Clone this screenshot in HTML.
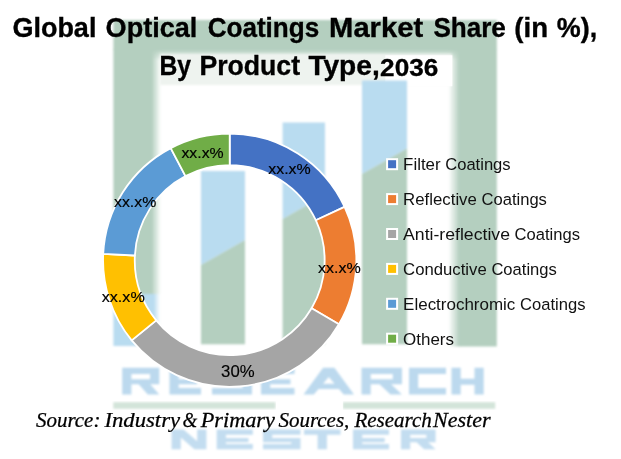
<!DOCTYPE html>
<html><head><meta charset="utf-8"><title>Global Optical Coatings Market Share</title>
<style>html,body{margin:0;padding:0;background:#fff;}body{width:621px;height:459px;overflow:hidden;font-family:"Liberation Sans",sans-serif;}svg{display:block;will-change:transform;opacity:0.999;}</style>
</head><body>
<svg width="621" height="459" viewBox="0 0 621 459">
<defs>
<filter id="b1" x="-10%" y="-10%" width="120%" height="120%"><feGaussianBlur stdDeviation="1.2"/></filter>
<filter id="b2" x="-10%" y="-30%" width="120%" height="160%"><feGaussianBlur stdDeviation="1.3"/></filter>
<linearGradient id="fade" x1="0" y1="0" x2="0" y2="1"><stop offset="0" stop-color="#b4cfbf"/><stop offset="1" stop-color="#b4cfbf" stop-opacity="0"/></linearGradient>
<linearGradient id="fadeR" x1="0" y1="0" x2="1" y2="0"><stop offset="0" stop-color="#b4cfbf"/><stop offset="1" stop-color="#b4cfbf" stop-opacity="0"/></linearGradient>
<linearGradient id="fadeB" x1="0" y1="0" x2="1" y2="0"><stop offset="0" stop-color="#b9dcf0"/><stop offset="1" stop-color="#b9dcf0" stop-opacity="0"/></linearGradient>
<linearGradient id="fadeL" x1="0" y1="0" x2="1" y2="0"><stop offset="0" stop-color="#b4cfbf" stop-opacity="0"/><stop offset="1" stop-color="#b4cfbf"/></linearGradient>
</defs>
<rect width="621" height="459" fill="#fff"/>

<g filter="url(#b1)">
<rect x="113.4" y="20" width="383.4" height="30" fill="#b4cfbf"/>
<rect x="113.4" y="49" width="38.6" height="245" fill="#b4cfbf"/>
<rect x="459" y="49" width="37.8" height="297.5" fill="#b4cfbf"/>
<rect x="150" y="49.5" width="309" height="11" fill="url(#fade)"/>
<rect x="151.5" y="50" width="9.5" height="244" fill="url(#fadeR)"/>
<rect x="448.5" y="50" width="11" height="296.5" fill="url(#fadeL)"/>
<rect x="113.4" y="294" width="40.6" height="52" fill="#b9dcf0"/>
<rect x="153.5" y="294" width="6.5" height="52" fill="url(#fadeB)"/>
</g>
<rect x="160" y="54" width="292" height="31" fill="#eef3ef" filter="url(#b1)"/><rect x="385.3" y="55.3" width="67" height="31" fill="#fff"/>
<g filter="url(#b1)">
<path d="M201,171 H245 V240.1 L201,265.0 Z" fill="#b9dcf0"/>
<path d="M201,265.0 L245,240.1 V344.3 H201 Z" fill="#b4cfbf"/>
<path d="M282.6,122.5 H325 V194.9 L282.6,218.9 Z" fill="#b9dcf0"/>
<path d="M282.6,218.9 L325,194.9 V344.3 H282.6 Z" fill="#b4cfbf"/>
<path d="M362,80.5 H407 V148.6 L362,174.0 Z" fill="#b9dcf0"/>
<path d="M362,174.0 L407,148.6 V344.3 H362 Z" fill="#b4cfbf"/>
</g>
<g filter="url(#b1)"><rect x="113.3" y="402.2" width="162.2" height="6.6" fill="#d3e4d9"/><rect x="342.8" y="402.2" width="152.4" height="6.6" fill="#d3e4d9"/></g>
<path d="M122.2,367.7 H131.4 V394.4 H122.2 Z M122.2,367.7 H159.3 V374.0 H122.2 Z M150.1,367.7 H159.3 V384.2 H150.1 Z M122.2,379.2 H159.3 V384.2 H122.2 Z M137.8,383.2 L149.3,383.2 L159.3,394.4 L147.8,394.4 Z M169.5,367.7 H178.7 V394.4 H169.5 Z M169.5,367.7 H201.0 V374.0 H169.5 Z M169.5,388.1 H201.0 V394.4 H169.5 Z M169.5,379.2 H197.2 V384.2 H169.5 Z M212.0,367.7 H252.0 V374.0 H212.0 Z M212.0,367.7 H221.2 V384.2 H212.0 Z M212.0,379.2 H252.0 V384.2 H212.0 Z M242.8,379.2 H252.0 V394.4 H242.8 Z M212.0,388.1 H252.0 V394.4 H212.0 Z M261.0,367.7 H270.2 V394.4 H261.0 Z M261.0,367.7 H294.5 V374.0 H261.0 Z M261.0,388.1 H294.5 V394.4 H261.0 Z M261.0,379.2 H290.5 V384.2 H261.0 Z M303.5,394.4 L323.1,367.7 L334.4,367.7 L354.0,394.4 L343.7,394.4 L328.8,377.1 L313.8,394.4 Z M314.6,383.7 H342.9 V389.1 H314.6 Z M361.5,367.7 H370.7 V394.4 H361.5 Z M361.5,367.7 H402.0 V374.0 H361.5 Z M392.8,367.7 H402.0 V384.2 H392.8 Z M361.5,379.2 H402.0 V384.2 H361.5 Z M378.5,383.2 L390.0,383.2 L402.0,394.4 L390.5,394.4 Z M409.0,367.7 H418.2 V394.4 H409.0 Z M409.0,367.7 H446.0 V374.0 H409.0 Z M409.0,388.1 H446.0 V394.4 H409.0 Z M451.5,367.7 H460.7 V394.4 H451.5 Z M474.5,367.7 H483.7 V394.4 H474.5 Z M451.5,378.7 H483.7 V384.7 H451.5 Z" fill="#bcd9ee" filter="url(#b2)"/>
<path d="M171.6,429.5 H180.8 V449.3 H171.6 Z M197.2,429.5 H206.4 V449.3 H197.2 Z M171.6,429.5 L183.6,429.5 L206.4,449.3 L194.4,449.3 Z M216.7,429.5 H225.9 V449.3 H216.7 Z M216.7,429.5 H252.8 V434.7 H216.7 Z M216.7,444.1 H252.8 V449.3 H216.7 Z M216.7,438.0 H248.5 V442.2 H216.7 Z M263.0,429.5 H300.5 V434.7 H263.0 Z M263.0,429.5 H272.2 V442.2 H263.0 Z M263.0,438.0 H300.5 V442.2 H263.0 Z M291.3,438.0 H300.5 V449.3 H291.3 Z M263.0,444.1 H300.5 V449.3 H263.0 Z M304.0,429.5 H340.5 V434.7 H304.0 Z M317.6,429.5 H326.9 V449.3 H317.6 Z M353.0,429.5 H362.2 V449.3 H353.0 Z M353.0,429.5 H389.0 V434.7 H353.0 Z M353.0,444.1 H389.0 V449.3 H353.0 Z M353.0,438.0 H384.7 V442.2 H353.0 Z M401.0,429.5 H410.2 V449.3 H401.0 Z M401.0,429.5 H435.6 V434.7 H401.0 Z M426.4,429.5 H435.6 V442.2 H426.4 Z M401.0,438.0 H435.6 V442.2 H401.0 Z M415.5,441.2 L427.0,441.2 L435.6,449.3 L424.1,449.3 Z" fill="#c3ddf0" filter="url(#b2)"/>
<rect x="276" y="399" width="66.8" height="11" fill="#fff"/>
<path d="M229.70,133.55 A126.65,126.65 0 0 1 344.58,206.88 L315.82,220.22 A94.95,94.95 0 0 0 229.70,165.25 Z" fill="#4472C4" stroke="#fff" stroke-width="1.8" stroke-linejoin="round"/>
<path d="M344.58,206.88 A126.65,126.65 0 0 1 338.94,324.29 L311.60,308.25 A94.95,94.95 0 0 0 315.82,220.22 Z" fill="#ED7D31" stroke="#fff" stroke-width="1.8" stroke-linejoin="round"/>
<path d="M338.94,324.29 A126.65,126.65 0 0 1 131.69,340.42 L156.22,320.34 A94.95,94.95 0 0 0 311.60,308.25 Z" fill="#A5A5A5" stroke="#fff" stroke-width="1.8" stroke-linejoin="round"/>
<path d="M131.69,340.42 A126.65,126.65 0 0 1 103.21,253.90 L134.87,255.48 A94.95,94.95 0 0 0 156.22,320.34 Z" fill="#FFC000" stroke="#fff" stroke-width="1.8" stroke-linejoin="round"/>
<path d="M103.21,253.90 A126.65,126.65 0 0 1 170.73,148.12 L185.49,176.17 A94.95,94.95 0 0 0 134.87,255.48 Z" fill="#5B9BD5" stroke="#fff" stroke-width="1.8" stroke-linejoin="round"/>
<path d="M170.73,148.12 A126.65,126.65 0 0 1 229.70,133.55 L229.70,165.25 A94.95,94.95 0 0 0 185.49,176.17 Z" fill="#70AD47" stroke="#fff" stroke-width="1.8" stroke-linejoin="round"/>
<text transform="translate(268.20,173.90) scale(1.0423,1)" font-family='"Liberation Sans", sans-serif' font-weight="normal" font-style="normal" font-size="15.3" fill="#000" stroke="#000" stroke-width="0.15">xx.x%</text>
<text transform="translate(318.00,272.80) scale(1.0497,1)" font-family='"Liberation Sans", sans-serif' font-weight="normal" font-style="normal" font-size="15.3" fill="#000" stroke="#000" stroke-width="0.15">xx.x%</text>
<text transform="translate(221.10,376.70) scale(1.0469,1)" font-family='"Liberation Sans", sans-serif' font-weight="normal" font-style="normal" font-size="16" fill="#000" stroke="#000" stroke-width="0.15">30%</text>
<text transform="translate(101.70,301.60) scale(1.0546,1)" font-family='"Liberation Sans", sans-serif' font-weight="normal" font-style="normal" font-size="15.3" fill="#000" stroke="#000" stroke-width="0.15">xx.x%</text>
<text transform="translate(114.00,206.80) scale(1.0374,1)" font-family='"Liberation Sans", sans-serif' font-weight="normal" font-style="normal" font-size="15.3" fill="#000" stroke="#000" stroke-width="0.15">xx.x%</text>
<text transform="translate(181.40,158.40) scale(1.0374,1)" font-family='"Liberation Sans", sans-serif' font-weight="normal" font-style="normal" font-size="15.3" fill="#000" stroke="#000" stroke-width="0.15">xx.x%</text>
<rect x="387.1" y="159.2" width="10" height="10" fill="#4472C4" stroke="#fff" stroke-width="2"/>
<text transform="translate(403.10,170.00) scale(0.9764,1)" font-family='"Liberation Sans", sans-serif' font-weight="normal" font-style="normal" font-size="17.3" fill="#111" >Filter</text>
<text transform="translate(445.20,170.00) scale(0.9583,1)" font-family='"Liberation Sans", sans-serif' font-weight="normal" font-style="normal" font-size="17.3" fill="#111" >Coatings</text>
<rect x="387.1" y="194.1" width="10" height="10" fill="#ED7D31" stroke="#fff" stroke-width="2"/>
<text transform="translate(403.10,204.90) scale(0.9717,1)" font-family='"Liberation Sans", sans-serif' font-weight="normal" font-style="normal" font-size="17.3" fill="#111" >Reflective</text>
<text transform="translate(481.50,204.90) scale(0.9583,1)" font-family='"Liberation Sans", sans-serif' font-weight="normal" font-style="normal" font-size="17.3" fill="#111" >Coatings</text>
<rect x="387.1" y="229.0" width="10" height="10" fill="#A5A5A5" stroke="#fff" stroke-width="2"/>
<text transform="translate(403.10,239.80) scale(1.0197,1)" font-family='"Liberation Sans", sans-serif' font-weight="normal" font-style="normal" font-size="17.3" fill="#111" >Anti-reflective</text>
<text transform="translate(514.60,239.80) scale(0.9583,1)" font-family='"Liberation Sans", sans-serif' font-weight="normal" font-style="normal" font-size="17.3" fill="#111" >Coatings</text>
<rect x="387.1" y="263.9" width="10" height="10" fill="#FFC000" stroke="#fff" stroke-width="2"/>
<text transform="translate(403.10,274.70) scale(0.9667,1)" font-family='"Liberation Sans", sans-serif' font-weight="normal" font-style="normal" font-size="17.3" fill="#111" >Conductive</text>
<text transform="translate(491.40,274.70) scale(0.9583,1)" font-family='"Liberation Sans", sans-serif' font-weight="normal" font-style="normal" font-size="17.3" fill="#111" >Coatings</text>
<rect x="387.1" y="298.8" width="10" height="10" fill="#5B9BD5" stroke="#fff" stroke-width="2"/>
<text transform="translate(403.10,309.60) scale(0.9822,1)" font-family='"Liberation Sans", sans-serif' font-weight="normal" font-style="normal" font-size="17.3" fill="#111" >Electrochromic</text>
<text transform="translate(520.10,309.60) scale(0.9583,1)" font-family='"Liberation Sans", sans-serif' font-weight="normal" font-style="normal" font-size="17.3" fill="#111" >Coatings</text>
<rect x="387.1" y="333.7" width="10" height="10" fill="#70AD47" stroke="#fff" stroke-width="2"/>
<text transform="translate(403.10,344.50) scale(0.9807,1)" font-family='"Liberation Sans", sans-serif' font-weight="normal" font-style="normal" font-size="17.3" fill="#111" >Others</text>
<text transform="translate(12.40,36.70) scale(0.9716,1)" font-family='"Liberation Sans", sans-serif' font-weight="bold" font-style="normal" font-size="27.8" fill="#000" stroke="#000" stroke-width="0.35">Global</text>
<text transform="translate(105.60,36.70) scale(0.9741,1)" font-family='"Liberation Sans", sans-serif' font-weight="bold" font-style="normal" font-size="27.8" fill="#000" stroke="#000" stroke-width="0.35">Optical</text>
<text transform="translate(207.70,36.70) scale(0.9379,1)" font-family='"Liberation Sans", sans-serif' font-weight="bold" font-style="normal" font-size="27.8" fill="#000" stroke="#000" stroke-width="0.35">Coatings</text>
<text transform="translate(329.10,36.70) scale(1.0496,1)" font-family='"Liberation Sans", sans-serif' font-weight="bold" font-style="normal" font-size="27.8" fill="#000" stroke="#000" stroke-width="0.35">Market</text>
<text transform="translate(433.40,36.70) scale(0.9381,1)" font-family='"Liberation Sans", sans-serif' font-weight="bold" font-style="normal" font-size="27.8" fill="#000" stroke="#000" stroke-width="0.35">Share</text>
<text transform="translate(514.30,36.70) scale(0.9936,1)" font-family='"Liberation Sans", sans-serif' font-weight="bold" font-style="normal" font-size="27.8" fill="#000" stroke="#000" stroke-width="0.35">(in</text>
<text transform="translate(556.80,36.70) scale(0.9688,1)" font-family='"Liberation Sans", sans-serif' font-weight="bold" font-style="normal" font-size="27.8" fill="#000" stroke="#000" stroke-width="0.35">%),</text>
<text transform="translate(159.50,75.40) scale(0.8723,1)" font-family='"Liberation Sans", sans-serif' font-weight="bold" font-style="normal" font-size="28.3" fill="#000" stroke="#000" stroke-width="0.35">By</text>
<text transform="translate(199.40,75.40) scale(0.9414,1)" font-family='"Liberation Sans", sans-serif' font-weight="bold" font-style="normal" font-size="28.3" fill="#000" stroke="#000" stroke-width="0.35">Product</text>
<text transform="translate(308.40,75.40) scale(0.9933,1)" font-family='"Liberation Sans", sans-serif' font-weight="bold" font-style="normal" font-size="28.3" fill="#000" stroke="#000" stroke-width="0.35">Type,</text>
<text transform="translate(380.10,75.60) scale(1.1084,1)" font-family='"Liberation Sans", sans-serif' font-weight="bold" font-style="normal" font-size="23.6" fill="#000" stroke="#000" stroke-width="0.3">2036</text>
<text transform="translate(35.90,426.60) scale(1.0248,1)" font-family='"Liberation Serif", serif' font-weight="normal" font-style="italic" font-size="20.5" fill="#000" stroke="#000" stroke-width="0.25">Source:</text>
<text transform="translate(104.41,426.60) scale(1.1085,1)" font-family='"Liberation Serif", serif' font-weight="normal" font-style="italic" font-size="20.5" fill="#000" stroke="#000" stroke-width="0.25">Industry</text>
<text transform="translate(182.40,426.60) scale(0.9256,1)" font-family='"Liberation Serif", serif' font-weight="normal" font-style="italic" font-size="20.5" fill="#000" stroke="#000" stroke-width="0.25">&amp;</text>
<text transform="translate(200.72,426.60) scale(1.0864,1)" font-family='"Liberation Serif", serif' font-weight="normal" font-style="italic" font-size="20.5" fill="#000" stroke="#000" stroke-width="0.25">Primary</text>
<text transform="translate(278.40,426.60) scale(1.0247,1)" font-family='"Liberation Serif", serif' font-weight="normal" font-style="italic" font-size="20.5" fill="#000" stroke="#000" stroke-width="0.25">Sources,</text>
<text transform="translate(354.41,426.60) scale(1.0258,1)" font-family='"Liberation Serif", serif' font-weight="normal" font-style="italic" font-size="20.5" fill="#000" stroke="#000" stroke-width="0.25">Research</text>
<text transform="translate(433.02,426.60) scale(1.0760,1)" font-family='"Liberation Serif", serif' font-weight="normal" font-style="italic" font-size="20.5" fill="#000" stroke="#000" stroke-width="0.25">Nester</text>
</svg></body></html>
